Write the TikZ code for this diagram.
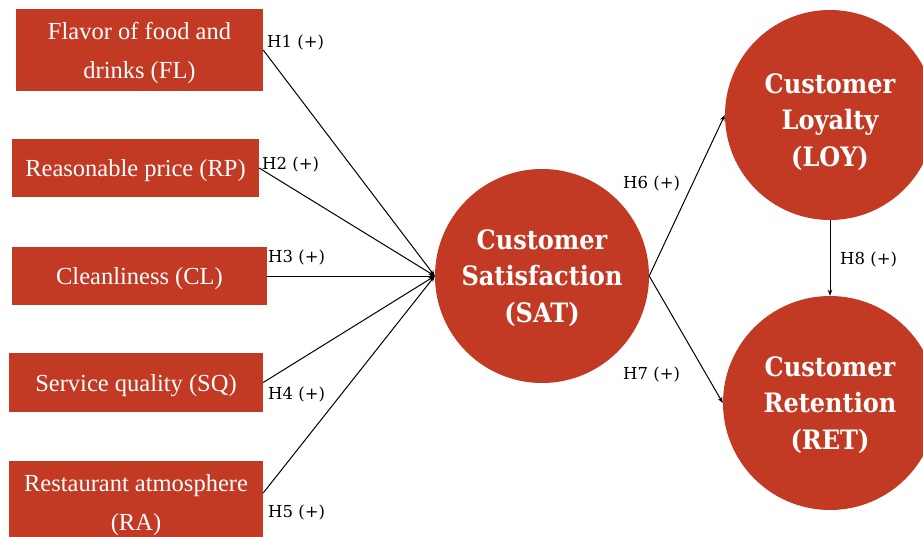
\documentclass[tikz,border=0pt]{standalone}
\usepackage{fontspec}
\setmainfont{Liberation Serif}
\newfontfamily\slabfont[FakeStretch=0.9]{DejaVu Serif}
\newfontfamily\labelfont{DejaVu Serif}
\usetikzlibrary{arrows.meta}
\definecolor{brick}{RGB}{194,57,36}
\begin{document}
\begin{tikzpicture}[x=1pt,y=-1pt,
  factor/.style={rectangle,fill=brick,inner sep=0pt},
  factortext/.style={text=white,inner sep=0pt,align=center,
    font=\fontsize{24.5}{38.5}\selectfont},
  construct/.style={circle,fill=brick,inner sep=0pt},
  constructtext/.style={text=white,inner sep=0pt,align=center,
    font=\slabfont\bfseries\fontsize{26.7}{36.5}\selectfont},
  hyp/.style={anchor=west,inner sep=0pt,font=\labelfont\fontsize{16.5}{18}\selectfont},
  link/.style={line width=1pt,-{Stealth[length=6pt,width=4.5pt]}}]
\useasboundingbox (0,0) rectangle (923,537);
\clip (0,0) rectangle (923,537);

% predictor boxes
\node[factor,minimum width=247,minimum height=82] (fl) at (139.5,50) {};
\node[factor,minimum width=247,minimum height=58] (rp) at (135.5,168) {};
\node[factor,minimum width=255,minimum height=58] (cl) at (139.5,276) {};
\node[factor,minimum width=254,minimum height=59] (sq) at (136,382.5) {};
\node[factor,minimum width=254,minimum height=88] (ra) at (136,505) {};

% predictor captions, set a little below the box centres
\node[factortext] (fl-t) at ([yshift=-3pt]fl.center) {Flavor of food and\\drinks (FL)};
\node[factortext] (rp-t) at ([yshift=-3pt]rp.center) {Reasonable price (RP)};
\node[factortext] (cl-t) at ([yshift=-3pt]cl.center) {Cleanliness (CL)};
\node[factortext] (sq-t) at ([yshift=-3pt]sq.center) {Service quality (SQ)};
\node[factortext] (ra-t) at (ra.center) {Restaurant atmosphere\\(RA)};

% outcome constructs
\node[construct,minimum size=214] (sat) at (542,276) {};
\node[construct,minimum size=210] (loy) at (830,115) {};
\node[construct,minimum size=214] (ret) at (830,403) {};
\node[constructtext] (sat-t) at ([yshift=-2pt]sat.center) {Customer\\Satisfaction\\(SAT)};
\node[constructtext] (loy-t) at ([yshift=-7pt]loy.center) {Customer\\Loyalty\\(LOY)};
\node[constructtext] (ret-t) at ([yshift=-2pt]ret.center) {Customer\\Retention\\(RET)};

% paths
\draw[link] (fl.east) -- (sat.west);
\draw[link] (rp.east) -- (sat.west);
\draw[link] (cl.east) -- (sat.west);
\draw[link] (sq.east) -- (sat.west);
\draw[link] ([yshift=12pt]ra.east) -- (sat.west);
\draw[link] (sat.east) -- (loy.west);
\draw[link] (sat.east) -- (ret.west);
\draw[link] (loy.south) -- (ret.north);

% hypothesis labels
\node[hyp] (h1) at (267,43) {H1 (+)};
\node[hyp] (h2) at (262,165) {H2 (+)};
\node[hyp] (h3) at (268,258) {H3 (+)};
\node[hyp] (h4) at (268,395) {H4 (+)};
\node[hyp] (h5) at (268,513) {H5 (+)};
\node[hyp] (h6) at (623,184) {H6 (+)};
\node[hyp] (h7) at (623,375) {H7 (+)};
\node[hyp] (h8) at (840,260) {H8 (+)};
\end{tikzpicture}
\end{document}
